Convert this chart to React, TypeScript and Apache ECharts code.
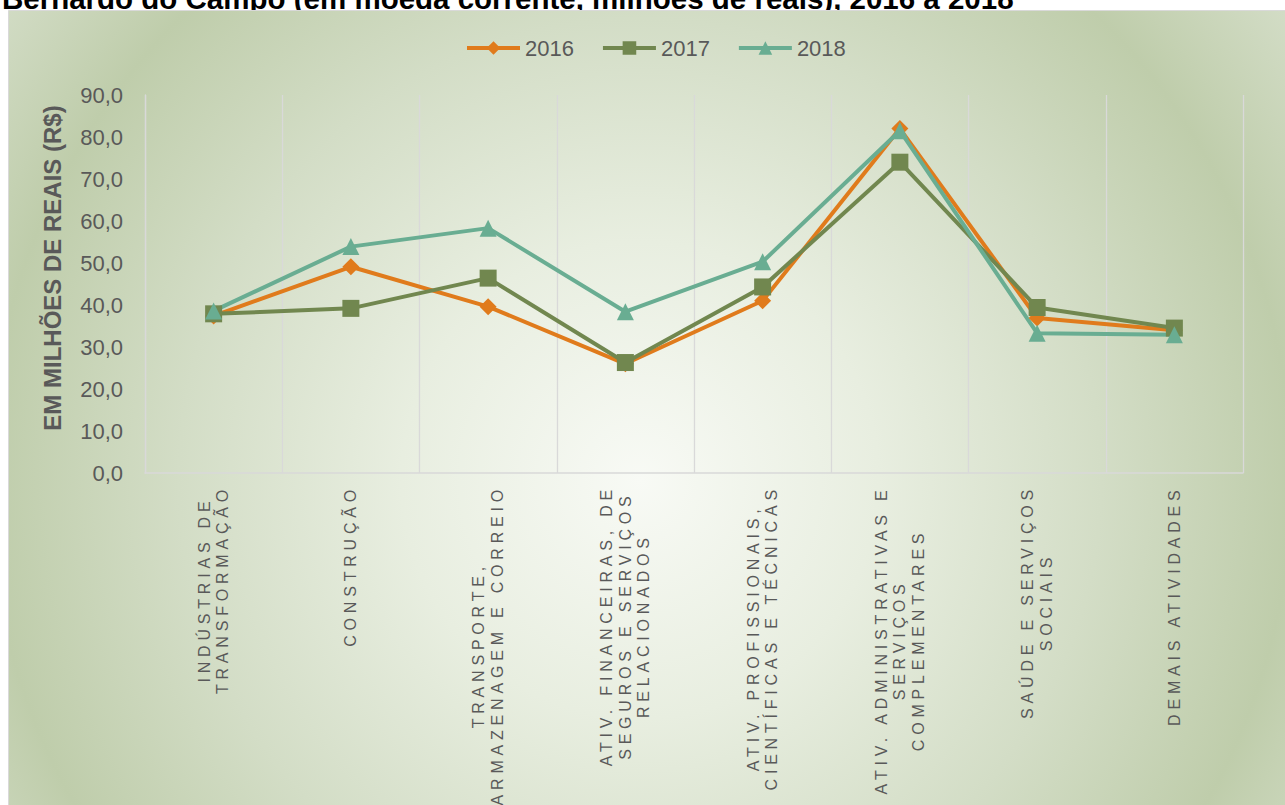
import React, { useEffect, useRef } from 'react';
import * as echarts from 'echarts';

const categories = [
  'INDÚSTRIAS DE\nTRANSFORMAÇÃO',
  'CONSTRUÇÃO',
  'TRANSPORTE,\nARMAZENAGEM E CORREIO',
  'ATIV. FINANCEIRAS, DE\nSEGUROS E SERVIÇOS\nRELACIONADOS',
  'ATIV. PROFISSIONAIS,\nCIENTÍFICAS E TÉCNICAS',
  'ATIV. ADMINISTRATIVAS E\nSERVIÇOS\nCOMPLEMENTARES',
  'SAÚDE E SERVIÇOS\nSOCIAIS',
  'DEMAIS ATIVIDADES',
];
const seriesNames = ['2016', '2017', '2018'];
const values2016 = [37.4, 49.1, 39.6, 26.0, 41.0, 82.0, 36.9, 34.0];
const values2017 = [37.9, 39.2, 46.4, 26.3, 44.3, 74.0, 39.4, 34.5];
const values2018 = [38.6, 53.9, 58.3, 38.4, 50.3, 81.5, 33.3, 32.9];
const yMin = 0;
const yMax = 90;
const yStep = 10;
const titleText = 'Bernardo do Campo (em moeda corrente, milhões de reais), 2016 a 2018';
const yAxisTitle = 'EM MILHÕES DE REAIS (R$)';

const LETTER_SPACING = 4.8;

export default function App() {
  const ref = useRef<HTMLDivElement>(null);
  useEffect(() => {
    const el = ref.current!;
    const chart = echarts.init(el, null, { renderer: 'svg' });

    const applySpacing = () => {
      const svg = el.querySelector('svg');
      if (!svg) return;
      const texts = Array.from(svg.querySelectorAll('text')) as SVGTextElement[];
      categories.forEach((cat) => {
        const lines = cat.split('\n');
        const els = texts.filter(
          (t) => lines.includes(t.textContent || '') && !t.hasAttribute('data-ls')
        );
        if (!els.length) return;
        const oldLens = els.map((t) => t.getComputedTextLength());
        const newLens = els.map(
          (t, i) => oldLens[i] + Array.from(t.textContent || '').length * LETTER_SPACING
        );
        const shift = -(Math.max(...newLens) - Math.max(...oldLens)) / 2;
        els.forEach((t) => {
          t.setAttribute('letter-spacing', LETTER_SPACING + 'px');
          t.style.letterSpacing = LETTER_SPACING + 'px';
          const tr = t.getAttribute('transform') || '';
          t.setAttribute('transform', tr + ` translate(${shift},0)`);
          t.setAttribute('data-ls', '1');
        });
      });
    };

    const bg = new echarts.graphic.RadialGradient(
      640,
      480,
      795,
      [
        { offset: 0, color: '#f8faf5' },
        { offset: 0.3, color: '#e8eee0' },
        { offset: 0.58, color: '#d3ddc6' },
        { offset: 0.82, color: '#bfcdab' },
        { offset: 1, color: '#d2dcc5' },
      ],
      true
    );

    const makeSeries = (name: string, data: number[], color: string, symbol: string, size: number) => ({
      name,
      type: 'line',
      data,
      symbol,
      symbolSize: size,
      showAllSymbol: true,
      lineStyle: { width: 4, color },
      itemStyle: { color },
      emphasis: { disabled: true },
    });

    const option: any = {
      animation: false,
      graphic: [
        {
          type: 'text',
          x: 2,
          y: -2,
          z: -101,
          silent: true,
          style: {
            text: titleText,
            font: 'bold 29.5px Arial',
            fill: '#000000',
            verticalAlign: 'middle',
            textVerticalAlign: 'middle',
          },
        },
        {
          type: 'rect',
          z: -100,
          silent: true,
          shape: { x: 8.5, y: 10.5, width: 1285, height: 800 },
          style: { fill: bg, stroke: '#d9d9d9', lineWidth: 1 },
        },
        {
          type: 'text',
          x: 52,
          y: 268,
          rotation: Math.PI / 2,
          silent: true,
          style: {
            text: yAxisTitle,
            font: 'bold 24px Arial',
            fill: '#595959',
            align: 'center',
            textAlign: 'center',
            verticalAlign: 'middle',
            textVerticalAlign: 'middle',
          },
        },
      ],
      legend: {
        data: seriesNames,
        left: 465,
        top: 37,
        padding: 0,
        itemWidth: 53,
        itemHeight: 17,
        itemGap: 27,
        lineStyle: { width: 4 },
        textStyle: { fontSize: 22, fontFamily: 'Arial', color: '#595959' },
      },
      grid: { left: 145, right: 42, top: 95, bottom: 332, containLabel: false },
      xAxis: {
        type: 'category',
        data: categories,
        boundaryGap: true,
        axisLine: { show: true, lineStyle: { color: '#d9d9d9', width: 1.5 } },
        axisTick: { show: false },
        splitLine: { show: true, lineStyle: { color: '#d9d9d9', width: 1.3 } },
        axisLabel: {
          interval: 0,
          rotate: 90,
          margin: 12,
          formatter: (v: string) =>
            v
              .split('\n')
              .map((l) => `{c|${l}}`)
              .join('\n'),
          rich: {
            c: {
              align: 'center',
              fontSize: 16,
              fontFamily: 'Arial',
              color: '#595959',
              lineHeight: 18.5,
            },
          },
        },
      },
      yAxis: {
        type: 'value',
        min: yMin,
        max: yMax,
        interval: yStep,
        axisLine: { show: true, lineStyle: { color: '#d9d9d9', width: 1.3 } },
        axisTick: { show: false },
        splitLine: { show: false },
        axisLabel: {
          margin: 22,
          fontSize: 22,
          fontFamily: 'Arial',
          color: '#595959',
          formatter: (v: number) => v.toFixed(1).replace('.', ','),
        },
      },
      series: [
        makeSeries(seriesNames[0], values2016, '#e07b1c', 'diamond', 17),
        makeSeries(seriesNames[1], values2017, '#71874f', 'rect', 17),
        makeSeries(seriesNames[2], values2018, '#69ad92', 'triangle', 17),
      ],
    };

    chart.on('finished', applySpacing);
    chart.setOption(option);
    applySpacing();
    return () => {
      chart.dispose();
    };
  }, []);
  return (
    <div
      ref={ref}
      style={{ position: 'absolute', left: 0, top: 0, width: 1285, height: 805, background: '#ffffff' }}
    />
  );
}
